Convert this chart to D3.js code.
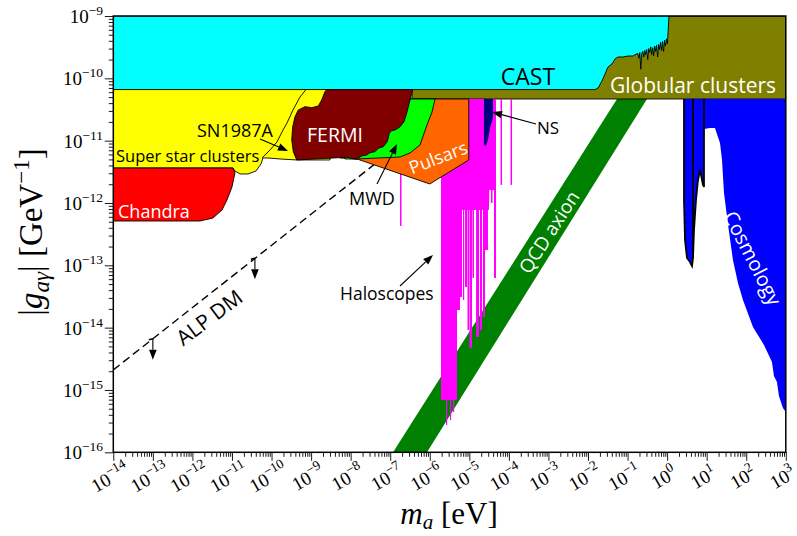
<!DOCTYPE html>
<html>
<head>
<meta charset="utf-8">
<script src="https://cdn.jsdelivr.net/npm/d3@7/dist/d3.min.js"></script>
<style>
  body { margin: 0; background: #fff; }
  svg text { font-family: "Open Sans", sans-serif; }
  svg .serif { font-family: "Liberation Serif", "DejaVu Serif", serif; }
</style>
</head>
<body>
<div id="chart"></div>
<script>
// all points are [m_a in eV, |g_ag| in GeV^-1]

var xDecades = d3.range(-14, 4)        // 10^-14 .. 10^3
var yDecades = d3.range(-16, -8)       // 10^-16 .. 10^-9

var castLimit = [[1e-14, 6.6e-11], [1.5e-2, 6.6e-11], [1.8e-2, 7.0e-11], [2.25e-2, 9.06e-11], [2.69e-2, 1.17e-10],
  [3.2e-2, 1.52e-10], [4.04e-2, 1.70e-10], [4.81e-2, 2.04e-10], [5.73e-2, 2.20e-10], [7.66e-2, 2.20e-10],
  [0.103, 2.28e-10], [0.137, 2.28e-10], [0.165, 2.45e-10],
  [0.182, 2.5e-10], [0.193, 2.1e-10], [0.204, 2.6e-10], [0.216, 1.4e-10], [0.229, 2.5e-10], [0.243, 2.7e-10],
  [0.257, 2.2e-10], [0.272, 2.8e-10], [0.288, 2.4e-10], [0.305, 2.9e-10], [0.324, 2.0e-10], [0.343, 3.0e-10],
  [0.363, 2.6e-10], [0.385, 3.2e-10], [0.407, 2.4e-10], [0.432, 3.1e-10], [0.457, 2.3e-10], [0.484, 3.3e-10],
  [0.513, 2.7e-10], [0.543, 3.4e-10], [0.575, 2.2e-10], [0.610, 3.5e-10], [0.646, 2.9e-10], [0.684, 3.8e-10],
  [0.724, 2.8e-10], [0.767, 3.9e-10], [0.813, 2.7e-10], [0.861, 4.1e-10], [0.912, 3.3e-10], [0.966, 4.3e-10],
  [1.02, 3.6e-10], [1.05, 5.14e-10], [1.11, 9.64e-10], [1.18, 1e-9], [1e-14, 1e-9]]

var globularClusters = [[3.56e-7, 4.66e-11], [1e3, 4.66e-11], [1e3, 1e-9], [3.56e-7, 1e-9]]

var superStarClusters = [[1e-14, 6.6e-11], [3.01e-9, 6.6e-11], [3.01e-9, 4.90e-12], [4.41e-10, 4.90e-12],
  [1.64e-10, 5.08e-12], [8.13e-11, 5.27e-12], [6.08e-11, 5.27e-12], [5.42e-11, 4.23e-12], [4.05e-11, 3.26e-12],
  [2.54e-11, 2.92e-12], [1.60e-11, 2.92e-12], [1.19e-11, 3.26e-12], [1.06e-11, 3.64e-12], [1e-14, 3.64e-12]]

var sn1987a = [[7.43e-10, 6.6e-11], [5.24e-10, 5.01e-11], [3.48e-10, 3.10e-11], [2.46e-10, 1.92e-11],
  [1.95e-10, 1.48e-11], [1.37e-10, 9.51e-12], [9.14e-11, 7.08e-12], [6.84e-11, 5.89e-12], [5.74e-11, 5.27e-12]]

var chandra = [[1e-14, 3.64e-12], [1.06e-11, 3.64e-12], [1.19e-11, 3.03e-12], [1.0e-11, 1.81e-12],
  [7.48e-12, 1.12e-12], [5.6e-12, 7.73e-13], [3.31e-12, 5.74e-13], [1.56e-12, 5.14e-13], [1e-14, 5.14e-13]]

var pulsars = [[5.38e-9, 5.27e-12], [2.33e-7, 4.66e-11], [9.68e-6, 4.66e-11], [9.68e-6, 4.90e-12],
  [1.0e-6, 2.02e-12], [1.45e-8, 5.08e-12]]

var mwd = [[7.19e-9, 5.08e-12], [1.45e-8, 5.08e-12], [1.77e-7, 5.47e-12], [3.16e-7, 6.34e-12], [5.66e-7, 8.51e-12],
  [8.51e-7, 1.78e-11], [1.14e-6, 2.88e-11], [1.36e-6, 4.66e-11], [5.52e-8, 4.66e-11], [7.19e-9, 1.48e-11]]

var fermi = [[2.48e-9, 6.6e-11], [3.70e-7, 6.6e-11], [3.16e-7, 4.49e-11], [2.61e-7, 2.75e-11], [2.23e-7, 2.01e-11],
  [1.77e-7, 1.67e-11], [1.32e-7, 1.48e-11], [1.09e-7, 1.45e-11], [9.48e-8, 1.31e-11], [8.43e-8, 9.62e-12],
  [6.68e-8, 8.0e-12], [5.00e-8, 7.53e-12], [4.12e-8, 6.65e-12], [3.08e-8, 6.41e-12], [2.54e-8, 5.89e-12],
  [1.90e-8, 5.68e-12], [1.42e-8, 5.02e-12], [7.94e-9, 5.41e-12], [4.33e-10, 4.90e-12], [3.55e-10, 6.65e-12],
  [3.24e-10, 1.03e-11], [3.43e-10, 1.67e-11], [3.92e-10, 2.42e-11], [4.74e-10, 3.10e-11], [7.02e-10, 3.51e-11],
  [1.04e-9, 3.38e-11], [1.52e-9, 3.60e-11], [1.85e-9, 4.49e-11], [2.24e-9, 6.11e-11]]

// haloscope exclusions: [m low, m high, lowest g excluded]
var haloscopes = [[1.92e-6, 3.14e-5, 7.73e-13], [3.14e-5, 4.72e-5, 1.61e-12], [1.77e-7, 1.93e-7, 4.28e-13],
  [1.92e-6, 4.88e-6, 6.90e-16],
  [2.57e-6, 2.72e-6, 2.74e-16], [3.24e-6, 3.44e-6, 3.30e-16], [3.86e-6, 4.09e-6, 4.44e-16],
  [4.88e-6, 5.81e-6, 1.92e-14], [5.81e-6, 6.53e-6, 3.10e-14], [6.92e-6, 7.33e-6, 2.78e-14],
  [7.78e-6, 8.73e-6, 4.49e-14], [8.99e-6, 9.82e-6, 9.16e-15], [1.01e-5, 1.17e-5, 4.72e-15],
  [1.20e-5, 1.31e-5, 6.27e-14], [1.48e-5, 1.76e-5, 7.08e-15], [1.86e-5, 2.09e-5, 9.16e-15],
  [2.21e-5, 2.49e-5, 1.48e-14], [2.49e-5, 2.96e-5, 1.76e-13], [2.96e-5, 3.14e-5, 1e-12],
  [3.53e-5, 3.85e-5, 1e-12], [4.20e-5, 4.72e-5, 6.27e-14], [6.14e-5, 6.70e-5, 1.95e-12], [1.10e-4, 1.20e-4, 1.95e-12]]
var haloTop = 4.66e-11

var neutronStars = [[2.34e-5, 4.66e-11], [3.95e-5, 4.66e-11], [3.95e-5, 2.31e-11], [3.32e-5, 1.60e-11],
  [2.96e-5, 1.03e-11], [2.63e-5, 8.2e-12], [2.34e-5, 8.51e-12]]

var cosmology = [[2.67, 4.66e-11], [2.67, 1.12e-12], [2.83, 2.55e-13], [3.18, 1.31e-13], [3.78, 1.13e-13],
  [4.26, 9.75e-14], [4.51, 1.31e-13], [4.78, 3.69e-13], [5.37, 1.12e-12], [6.03, 2.34e-12], [6.78, 3.38e-12],
  [8.07, 1.95e-12], [8.55, 1.81e-12], [8.55, 1.54e-11], [12.1, 1.60e-11], [16.2, 1.60e-11], [21.7, 9.17e-12],
  [24.4, 4.90e-12], [27.4, 1.45e-12], [34.5, 4.60e-13], [46.1, 1.22e-13], [61.8, 5.20e-14], [82.6, 2.78e-14],
  [148, 1.02e-14], [281, 5.27e-15], [447, 2.81e-15], [502, 1.67e-15], [598, 1.34e-15], [671, 8.0e-16],
  [847, 5.14e-16], [1000, 4.44e-16], [1000, 4.66e-11]]
var cosmoSpikes = [[[2.67, 4.66e-11], [2.67, 1.12e-12], [2.83, 2.55e-13], [3.18, 1.31e-13], [3.78, 1.13e-13],
  [4.26, 9.75e-14], [4.51, 1.31e-13], [4.78, 3.69e-13], [5.37, 1.12e-12], [6.03, 2.34e-12], [6.78, 3.38e-12],
  [8.07, 1.95e-12], [8.55, 1.81e-12], [8.55, 4.66e-11]],
  [[4.51, 4.66e-11], [4.51, 1.31e-13]]]

var qcdBand = [[1.18e-7, 1e-16], [5.41e-2, 4.66e-11], [0.31, 4.66e-11], [8.51e-7, 1e-16]]
var alpDM = [[1e-14, 2.1e-15], [1e-7, 6.6e-12]]
var alpArrows = [1e-13, 3.8e-11]   // masses where the "below the line" arrows sit

function chart() {
  var width = 797, height = 536
  var left = 113.3, right = 785.8, top = 16, bottom = 452.3

  var x = d3.scaleLog().domain([1e-14, 1e3]).range([left, right])
  var y = d3.scaleLog().domain([1e-16, 1e-9]).range([bottom, top])

  var svg = d3.select('#chart').append('svg')
    .attr('width', width)
    .attr('height', height)

  svg.append('clipPath').attr('id', 'plotclip')
    .append('rect').attr('x', left).attr('y', top).attr('width', right - left).attr('height', bottom - top)

  var line = d3.line().x(d => x(d[0])).y(d => y(d[1]))
  var plot = svg.append('g').attr('clip-path', 'url(#plotclip)')

  function region(data, fill, edge) {
    plot.append('path')
      .attr('d', line(data) + 'Z')
      .attr('fill', fill)
      .attr('stroke', edge ? 'black' : 'none')
      .attr('stroke-width', 0.9)
      .attr('stroke-linejoin', 'round')
  }

  // ALP DM line goes under everything
  plot.append('path')
    .attr('d', line(alpDM))
    .attr('fill', 'none')
    .attr('stroke', 'black')
    .attr('stroke-width', 1.4)
    .attr('stroke-dasharray', '8,4.5')

  region(qcdBand, '#008000', false)
  region(globularClusters, '#808000', true)
  region(castLimit, '#00ffff', true)

  haloscopes.forEach(function (h) {
    plot.append('rect')
      .attr('x', x(h[0]))
      .attr('width', Math.max(1.2, x(h[1]) - x(h[0])))
      .attr('y', y(haloTop))
      .attr('height', y(h[2]) - y(haloTop))
      .attr('fill', '#ff00ff')
  })
  region(neutronStars, '#000080', false)

  region(superStarClusters, '#ffff00', true)
  plot.append('path')
    .attr('d', line(sn1987a))
    .attr('fill', 'none')
    .attr('stroke', 'black')
    .attr('stroke-width', 0.9)
  region(chandra, '#ff0000', true)
  region(pulsars, '#ff6600', true)
  region(mwd, '#00ff00', true)
  region(fermi, '#800000', true)

  region(cosmology, '#0000ff', false)
  cosmoSpikes.forEach(function (s) {
    plot.append('path')
      .attr('d', line(s))
      .attr('fill', 'none')
      .attr('stroke', 'black')
      .attr('stroke-width', 1.8)
  })

  // axes
  var xMinor = [], yMinor = []
  xDecades.slice(0, -1).forEach(function (e) {
    for (var k = 2; k < 10; k++) xMinor.push(k * Math.pow(10, e))
  })
  yDecades.slice(0, -1).forEach(function (e) {
    for (var k = 2; k < 10; k++) yMinor.push(k * Math.pow(10, e))
  })
  var xMajor = xDecades.map(e => Math.pow(10, e))
  var yMajor = yDecades.map(e => Math.pow(10, e))

  svg.append('g').attr('transform', 'translate(0,' + bottom + ')')
    .call(d3.axisBottom(x).tickValues(xMinor).tickSize(4.5).tickFormat(''))
  svg.append('g').attr('transform', 'translate(0,' + bottom + ')')
    .call(d3.axisBottom(x).tickValues(xMajor).tickSize(8.5).tickFormat(''))
  svg.append('g').attr('transform', 'translate(' + left + ',0)')
    .call(d3.axisLeft(y).tickValues(yMinor).tickSize(4.5).tickFormat(''))
  svg.append('g').attr('transform', 'translate(' + left + ',0)')
    .call(d3.axisLeft(y).tickValues(yMajor).tickSize(8.5).tickFormat(''))
  svg.selectAll('.domain').remove()
  svg.selectAll('.tick line').attr('stroke', 'black').attr('stroke-width', 0.9)

  xDecades.forEach(function (e) {
    var t = svg.append('text').attr('class', 'serif')
      .attr('transform', 'translate(' + x(Math.pow(10, e)) + ',' + 483 + ') rotate(-30)')
      .attr('text-anchor', 'middle')
      .attr('font-size', 19)
    t.append('tspan').text('10')
    t.append('tspan').attr('dy', -8).attr('font-size', 13.5).text(e < 0 ? '\u2212' + (-e) : e)
  })
  yDecades.forEach(function (e) {
    var t = svg.append('text').attr('class', 'serif')
      .attr('x', 103).attr('y', y(Math.pow(10, e)) + 7)
      .attr('text-anchor', 'end')
      .attr('font-size', 19)
    t.append('tspan').text('10')
    t.append('tspan').attr('dy', -8).attr('font-size', 13.5).text('\u2212' + (-e))
  })

  svg.append('rect')
    .attr('x', left).attr('y', top).attr('width', right - left).attr('height', bottom - top)
    .attr('fill', 'none').attr('stroke', 'black').attr('stroke-width', 1.5)

  // axis titles
  var xt = svg.append('text').attr('class', 'serif')
    .attr('x', 449).attr('y', 524).attr('text-anchor', 'middle').attr('font-size', 31)
  xt.append('tspan').attr('font-style', 'italic').text('m')
  xt.append('tspan').attr('font-style', 'italic').attr('font-size', 21).attr('dy', 5).text('a')
  xt.append('tspan').attr('dy', -5).text(' [eV]')

  var yt = svg.append('text').attr('class', 'serif')
    .attr('transform', 'translate(42,232) rotate(-90)')
    .attr('text-anchor', 'middle').attr('font-size', 33)
  yt.append('tspan').text('|')
  yt.append('tspan').attr('font-style', 'italic').text('g')
  yt.append('tspan').attr('font-style', 'italic').attr('font-size', 23).attr('dy', 7).text('a\u03b3')
  yt.append('tspan').attr('dy', -7).text('| [GeV')
  yt.append('tspan').attr('font-size', 23).attr('dy', -13).text('\u22121')
  yt.append('tspan').attr('dy', 13).text(']')

  // labels
  var labels = [
    {t: 'CAST', x: 528, y: 85, size: 23, fill: 'black', anchor: 'middle'},
    {t: 'Globular clusters', x: 693, y: 93, size: 21, fill: 'white', anchor: 'middle'},
    {t: 'Super star clusters', x: 116, y: 162, size: 16.5, fill: 'black', anchor: 'start'},
    {t: 'SN1987A', x: 197, y: 137, size: 18, fill: 'black', anchor: 'start'},
    {t: 'Chandra', x: 118, y: 218, size: 18, fill: 'white', anchor: 'start'},
    {t: 'FERMI', x: 307, y: 142, size: 19.5, fill: 'white', anchor: 'start'},
    {t: 'MWD', x: 349, y: 205, size: 18, fill: 'black', anchor: 'start'},
    {t: 'NS', x: 537, y: 134, size: 17, fill: 'black', anchor: 'start'},
    {t: 'Haloscopes', x: 340, y: 300, size: 17.5, fill: 'black', anchor: 'start'},
    {t: 'Pulsars', x: 438, y: 157, size: 18, fill: 'white', anchor: 'middle', rot: -21},
    {t: 'ALP DM', x: 209, y: 317, size: 21, fill: 'black', anchor: 'middle', rot: -37},
    {t: 'QCD axion', x: 549, y: 232, size: 19, fill: 'white', anchor: 'middle', rot: -57},
    {t: 'Cosmology', x: 753, y: 258, size: 20, fill: 'white', anchor: 'middle', rot: 63}
  ]
  labels.forEach(function (l) {
    var t = svg.append('text')
      .attr('font-size', l.size)
      .attr('fill', l.fill)
      .attr('text-anchor', l.anchor)
      .text(l.t)
    if (l.rot) {
      t.attr('transform', 'translate(' + l.x + ',' + l.y + ') rotate(' + l.rot + ')')
        .attr('dominant-baseline', 'central')
    } else {
      t.attr('x', l.x).attr('y', l.y)
    }
  })

  // arrows (pixel anchors of the annotations)
  function arrow(x1, y1, x2, y2) {
    var dx = x2 - x1, dy = y2 - y1, len = Math.sqrt(dx * dx + dy * dy)
    var ux = dx / len, uy = dy / len, hl = 10, hw = 3.8
    var bx = x2 - ux * hl, by = y2 - uy * hl
    svg.append('line')
      .attr('x1', x1).attr('y1', y1).attr('x2', bx).attr('y2', by)
      .attr('stroke', 'black').attr('stroke-width', 1.1)
    svg.append('path')
      .attr('d', 'M' + x2 + ',' + y2 + 'L' + (bx - uy * hw) + ',' + (by + ux * hw) +
        'L' + (bx + uy * hw) + ',' + (by - ux * hw) + 'Z')
      .attr('fill', 'black')
  }
  arrow(260, 139, 288, 151)
  arrow(377, 184, 397, 144)
  arrow(536, 124, 492, 112)
  arrow(400, 286, 433, 255)

  alpArrows.forEach(function (m) {
    var g = alpDM[0][1] * Math.sqrt(m / alpDM[0][0])
    var px = x(m), py = y(g)
    svg.append('line').attr('x1', px - 4).attr('y1', py + 1).attr('x2', px).attr('y2', py)
      .attr('stroke', 'black').attr('stroke-width', 1.6)
    arrow(px, py, px, py + 21)
  })
}

chart()
</script>
</body>
</html>
